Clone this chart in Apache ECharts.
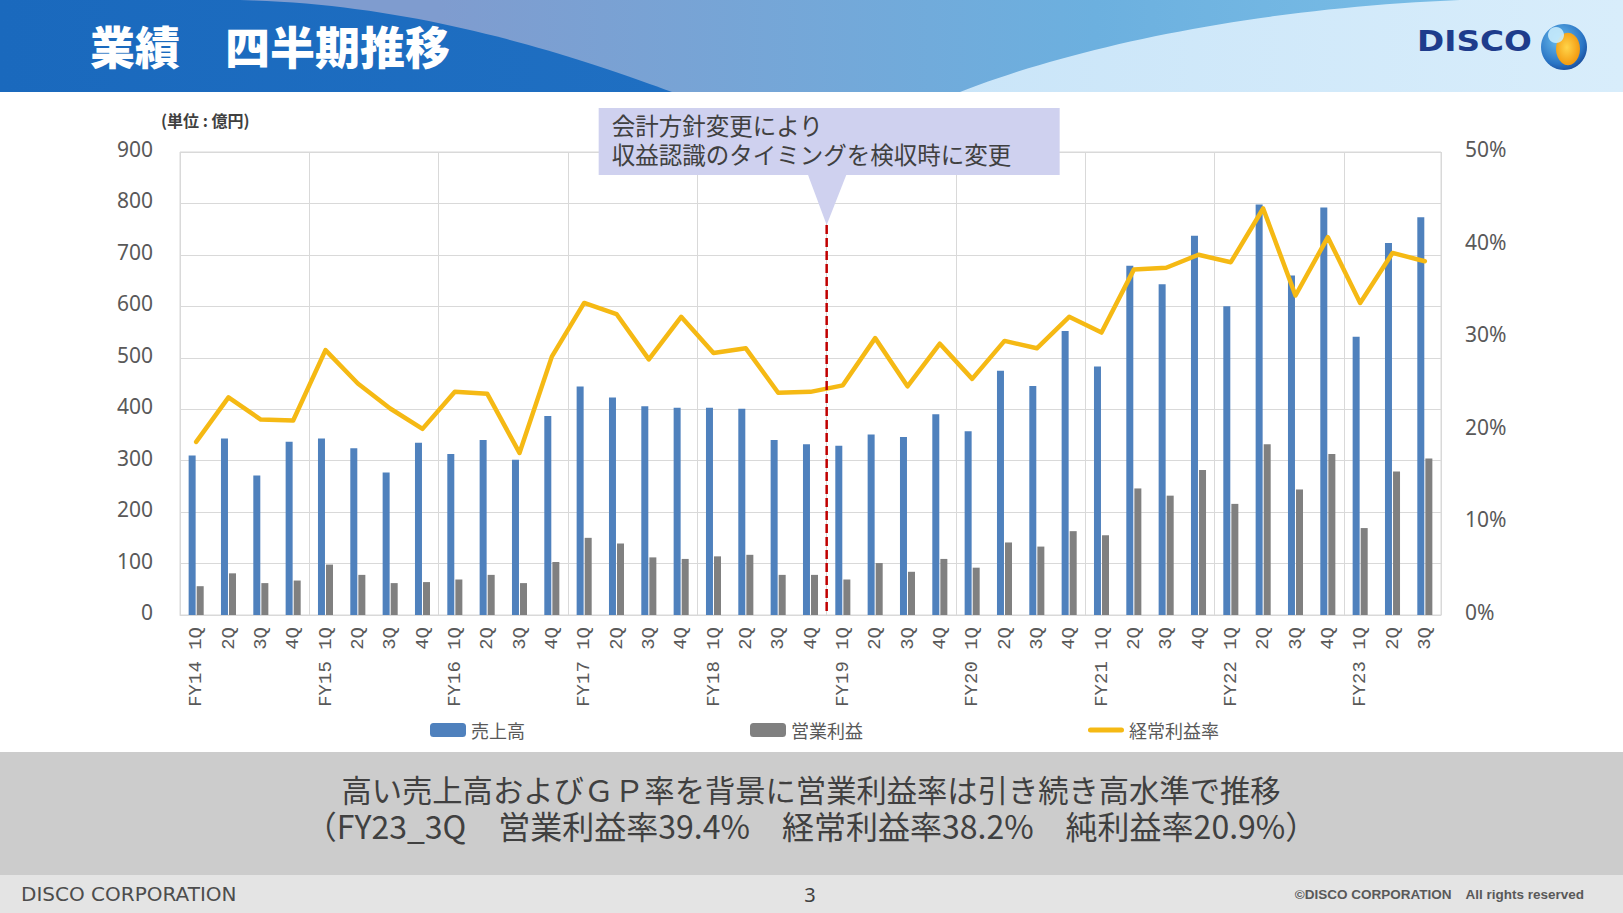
<!DOCTYPE html>
<html>
<head>
<meta charset="utf-8">
<script src="https://cdn.jsdelivr.net/npm/echarts@6/dist/echarts.min.js"></script>
<style>
  html, body { margin: 0; padding: 0; background: #ffffff; }
  #chart { width: 1623px; height: 913px; }
</style>
</head>
<body>
<div id="chart"></div>
<script>
// ---------- data ----------
const categories = [
  'FY14 1Q','FY14 2Q','FY14 3Q','FY14 4Q',
  'FY15 1Q','FY15 2Q','FY15 3Q','FY15 4Q',
  'FY16 1Q','FY16 2Q','FY16 3Q','FY16 4Q',
  'FY17 1Q','FY17 2Q','FY17 3Q','FY17 4Q',
  'FY18 1Q','FY18 2Q','FY18 3Q','FY18 4Q',
  'FY19 1Q','FY19 2Q','FY19 3Q','FY19 4Q',
  'FY20 1Q','FY20 2Q','FY20 3Q','FY20 4Q',
  'FY21 1Q','FY21 2Q','FY21 3Q','FY21 4Q',
  'FY22 1Q','FY22 2Q','FY22 3Q','FY22 4Q',
  'FY23 1Q','FY23 2Q','FY23 3Q'
];
const tickLabels = [
  'FY14 1Q','2Q','3Q','4Q',
  'FY15 1Q','2Q','3Q','4Q',
  'FY16 1Q','2Q','3Q','4Q',
  'FY17 1Q','2Q','3Q','4Q',
  'FY18 1Q','2Q','3Q','4Q',
  'FY19 1Q','2Q','3Q','4Q',
  'FY20 1Q','2Q','3Q','4Q',
  'FY21 1Q','2Q','3Q','4Q',
  'FY22 1Q','2Q','3Q','4Q',
  'FY23 1Q','2Q','3Q'
];
// 売上高 (億円)
const sales = [
  310,343,271,337,
  343,324,277,335,
  313,340,302,387,
  444,423,406,403,
  403,401,340,332,
  329,351,346,390,
  357,475,445,552,
  483,679,643,737,
  600,798,660,792,
  541,723,773
];
// 営業利益 (億円)
const operatingIncome = [
  56,81,62,67,
  98,78,62,64,
  69,78,62,103,
  150,139,112,109,
  114,117,78,78,
  69,101,84,109,
  92,141,133,163,
  155,246,232,282,
  216,332,244,313,
  169,279,304
];
// 経常利益率 (%)
const ordinaryMargin = [
  18.7,23.5,21.1,21.0,
  28.6,25.0,22.3,20.1,
  24.1,23.9,17.5,27.9,
  33.7,32.5,27.6,32.2,
  28.3,28.8,24.0,24.1,
  24.8,29.9,24.7,29.3,
  25.5,29.6,28.8,32.2,
  30.5,37.3,37.5,38.9,
  38.1,43.9,34.5,40.8,
  33.7,39.1,38.2
];
const leftTicks = { min: 0, max: 900, interval: 100 };
const rightTicks = { min: 0, max: 50, interval: 10 };
const seriesNames = ['売上高', '営業利益', '経常利益率'];
const changeBoundary = ['FY18 4Q', 'FY19 1Q'];   // 会計方針変更の境界
const calloutLines = ['会計方針変更により', '収益認識のタイミングを検収時に変更'];
const titleText = '業績　四半期推移';
const unitText = '(単位 : 億円)';
const summaryLines = [
  '高い売上高およびＧＰ率を背景に営業利益率は引き続き高水準で推移',
  '（FY23_3Q　営業利益率39.4%　経常利益率38.2%　純利益率20.9%）'
];

// ---------- chart ----------
const JP = '"Noto Sans CJK JP", "Noto Sans", sans-serif';
const chart = echarts.init(document.getElementById('chart'), null, { renderer: 'svg' });

function lin(stops) {
  return { type: 'linear', x: 0, y: 0, x2: 1, y2: 0, colorStops: stops };
}
function rad(x, y, r, stops) {
  return { type: 'radial', x: x, y: y, r: r, colorStops: stops };
}
// decorative banner curve sampled as polygon points
function bez(p0, p1, p2, p3, n) {
  const pts = [];
  for (let k = 0; k <= n; k++) {
    const t = k / n, u = 1 - t;
    pts.push([
      u*u*u*p0[0] + 3*u*u*t*p1[0] + 3*u*t*t*p2[0] + t*t*t*p3[0],
      u*u*u*p0[1] + 3*u*u*t*p1[1] + 3*u*t*t*p2[1] + t*t*t*p3[1]
    ]);
  }
  return pts;
}
const midPts = [[0, 0]].concat(bez([1460, 0], [1260, 8], [1080, 45], [960, 92], 40)).concat([[0, 92]]);
const darkPts = [[0, 0]].concat(bez([240, 0], [420, 4], [570, 55], [672, 92], 40)).concat([[0, 92]]);

const staticGraphics = [
  // header banner
  { type: 'rect', id: 'hdrBg', z: 0, shape: { x: 0, y: 0, width: 1623, height: 92 },
    style: { fill: lin([{ offset: 0, color: '#b6daf5' }, { offset: 1, color: '#d8edfb' }]) } },
  { type: 'polygon', id: 'hdrMid', z: 1, shape: { points: midPts },
    style: { fill: lin([{ offset: 0.3, color: '#7f9ccf' }, { offset: 0.75, color: '#6cb0df' }, { offset: 1, color: '#79bde6' }]) } },
  { type: 'polygon', id: 'hdrDark', z: 2, shape: { points: darkPts },
    style: { fill: lin([{ offset: 0, color: '#1a69bd' }, { offset: 1, color: '#1f6fc2' }]) } },
  { type: 'text', id: 'title', z: 5, x: 90, y: 45,
    style: { text: titleText, fill: '#ffffff', font: '900 45px ' + JP, verticalAlign: 'middle', align: 'left' } },
  { type: 'text', id: 'logoText', z: 5, x: 1417, y: 41, scaleX: 1.13,
    style: { text: 'DISCO', fill: '#1e3c8c', font: 'bold 29px "DejaVu Sans", sans-serif', verticalAlign: 'middle', align: 'left' } },
  { type: 'circle', id: 'logoOuter', z: 5, shape: { cx: 1564, cy: 47, r: 23 },
    style: { fill: rad(0.4, 0.35, 0.75, [{ offset: 0, color: '#6cc0ef' }, { offset: 0.7, color: '#2a74c4' }, { offset: 1, color: '#143f8e' }]) } },
  { type: 'circle', id: 'logoInner', z: 6, shape: { cx: 0, cy: 0, r: 12 }, x: 1568, y: 49, scaleY: 1.35,
    style: { fill: rad(0.45, 0.45, 0.7, [{ offset: 0, color: '#ffd54a' }, { offset: 1, color: '#f08a00' }]) } },
  { type: 'circle', id: 'logoHi', z: 7, shape: { cx: 1556, cy: 35, r: 8 },
    style: { fill: 'rgba(200,235,252,0.9)' } },

  // unit label
  { type: 'text', id: 'unit', z: 5, x: 161, y: 120,
    style: { text: unitText, fill: '#404040', font: 'bold 16px ' + JP, verticalAlign: 'middle', align: 'left' } },

  // summary band
  { type: 'rect', id: 'band', z: 0, shape: { x: 0, y: 752, width: 1623, height: 123 }, style: { fill: '#cccccc' } },
  { type: 'text', id: 'summary', z: 5, x: 811, y: 807,
    style: {
      text: '{a|' + summaryLines[0] + '}\n{b|' + summaryLines[1] + '}',
      fill: '#404040', font: '30px ' + JP, align: 'center', verticalAlign: 'middle',
      rich: {
        a: { fontSize: 30.3, lineHeight: 36, fontFamily: JP, fill: '#404040', align: 'center' },
        b: { fontSize: 32, lineHeight: 36, fontFamily: JP, fill: '#404040', align: 'center' }
      }
    } },

  // footer
  { type: 'rect', id: 'footer', z: 0, shape: { x: 0, y: 875, width: 1623, height: 38 }, style: { fill: '#e4e4e4' } },
  { type: 'text', id: 'footL', z: 5, x: 21, y: 894,
    style: { text: 'DISCO CORPORATION', fill: '#4d4d4d', font: '20px "DejaVu Sans", sans-serif', verticalAlign: 'middle', align: 'left' } },
  { type: 'text', id: 'footPage', z: 5, x: 810, y: 894,
    style: { text: '3', fill: '#404040', font: '20px "Noto Sans", sans-serif', verticalAlign: 'middle', align: 'center' } },
  { type: 'text', id: 'footR', z: 5, x: 1584, y: 894,
    style: { text: '©DISCO CORPORATION　All rights reserved', fill: '#595959', font: 'bold 13.5px "Liberation Sans", sans-serif', verticalAlign: 'middle', align: 'right' } }
];

const option = {
  backgroundColor: '#ffffff',
  animation: false,
  textStyle: { fontFamily: JP },
  grid: { left: 180, top: 152, width: 1261, height: 463, show: true, borderColor: '#d9d9d9', borderWidth: 1, backgroundColor: 'transparent', containLabel: false },
  legend: {
    data: [
      { name: seriesNames[0] },
      { name: seriesNames[1] },
      { name: seriesNames[2], icon: 'path://M2.5 0 H33.5 A2.5 2.5 0 0 1 33.5 5 H2.5 A2.5 2.5 0 0 1 2.5 0 Z' }
    ],
    symbolKeepAspect: true,
    left: 425, top: 716,
    itemWidth: 36, itemHeight: 14, itemGap: 225,
    textStyle: { fontSize: 18, color: '#595959', fontFamily: JP }
  },
  xAxis: {
    type: 'category',
    data: categories,
    boundaryGap: true,
    axisLine: { show: true, lineStyle: { color: '#d9d9d9', width: 1 } },
    axisTick: { show: false },
    splitLine: { show: true, interval: function (i) { return i % 4 === 0; }, lineStyle: { color: '#d9d9d9', width: 1 } },
    axisLabel: {
      interval: 0, rotate: 90, margin: 12,
      fontSize: 19, color: '#595959', fontFamily: '"Liberation Mono", "DejaVu Sans Mono", monospace',
      formatter: function (v, i) { return tickLabels[i]; }
    }
  },
  yAxis: [
    {
      type: 'value', min: leftTicks.min, max: leftTicks.max, interval: leftTicks.interval,
      axisLine: { show: false }, axisTick: { show: false },
      splitLine: { show: true, lineStyle: { color: '#d9d9d9', width: 1 } },
      axisLabel: { fontSize: 21, color: '#595959', margin: 27, verticalAlign: 'bottom', lineHeight: 6, fontFamily: '"Noto Sans", sans-serif' }
    },
    {
      type: 'value', min: rightTicks.min, max: rightTicks.max, interval: rightTicks.interval,
      axisLine: { show: false }, axisTick: { show: false }, splitLine: { show: false },
      axisLabel: { fontSize: 21, color: '#595959', margin: 24, verticalAlign: 'bottom', lineHeight: 6, formatter: '{value}%', fontFamily: '"Noto Sans", sans-serif' }
    }
  ],
  series: [
    { name: seriesNames[0], type: 'bar', data: sales, barWidth: 7, barGap: '15%', itemStyle: { color: '#4f81bd' } },
    { name: seriesNames[1], type: 'bar', data: operatingIncome, barWidth: 7, itemStyle: { color: '#808080' } },
    { name: seriesNames[2], type: 'line', yAxisIndex: 1, data: ordinaryMargin, symbol: 'none', z: 5,
      itemStyle: { color: '#f5b914' },
      lineStyle: { color: '#f5b914', width: 4.5, cap: 'round', join: 'round' } }
  ],
  graphic: staticGraphics
};

chart.setOption(option);

// Accounting-change marker, positioned via the category axis
const xa = chart.convertToPixel({ xAxisIndex: 0 }, changeBoundary[0]);
const xb = chart.convertToPixel({ xAxisIndex: 0 }, changeBoundary[1]);
const lineX = (xa + xb) / 2;
const axisY = chart.convertToPixel({ yAxisIndex: 0 }, 0);
const tipY = 225;
const boxTop = 108, boxBottom = 175;
chart.setOption({
  graphic: staticGraphics.concat([
    { type: 'line', id: 'changeLine', z: 50, shape: { x1: lineX, y1: tipY, x2: lineX, y2: axisY },
      style: { stroke: '#c00000', lineWidth: 2.5, lineDash: [9, 4] } },
    { type: 'rect', id: 'calloutBox', z: 60, shape: { x: lineX - 228, y: boxTop, width: 461, height: boxBottom - boxTop },
      style: { fill: '#cfd1ef' } },
    { type: 'polygon', id: 'calloutTip', z: 60,
      shape: { points: [[lineX - 19, boxBottom - 1], [lineX + 20, boxBottom - 1], [lineX, tipY]] },
      style: { fill: '#cfd1ef' } },
    { type: 'text', id: 'calloutText', z: 61, x: lineX - 215, y: 139,
      style: { text: calloutLines.join('\n'), fill: '#404040', font: '23.5px ' + JP, lineHeight: 29,
        verticalAlign: 'middle', align: 'left' } }
  ])
});
</script>
</body>
</html>
